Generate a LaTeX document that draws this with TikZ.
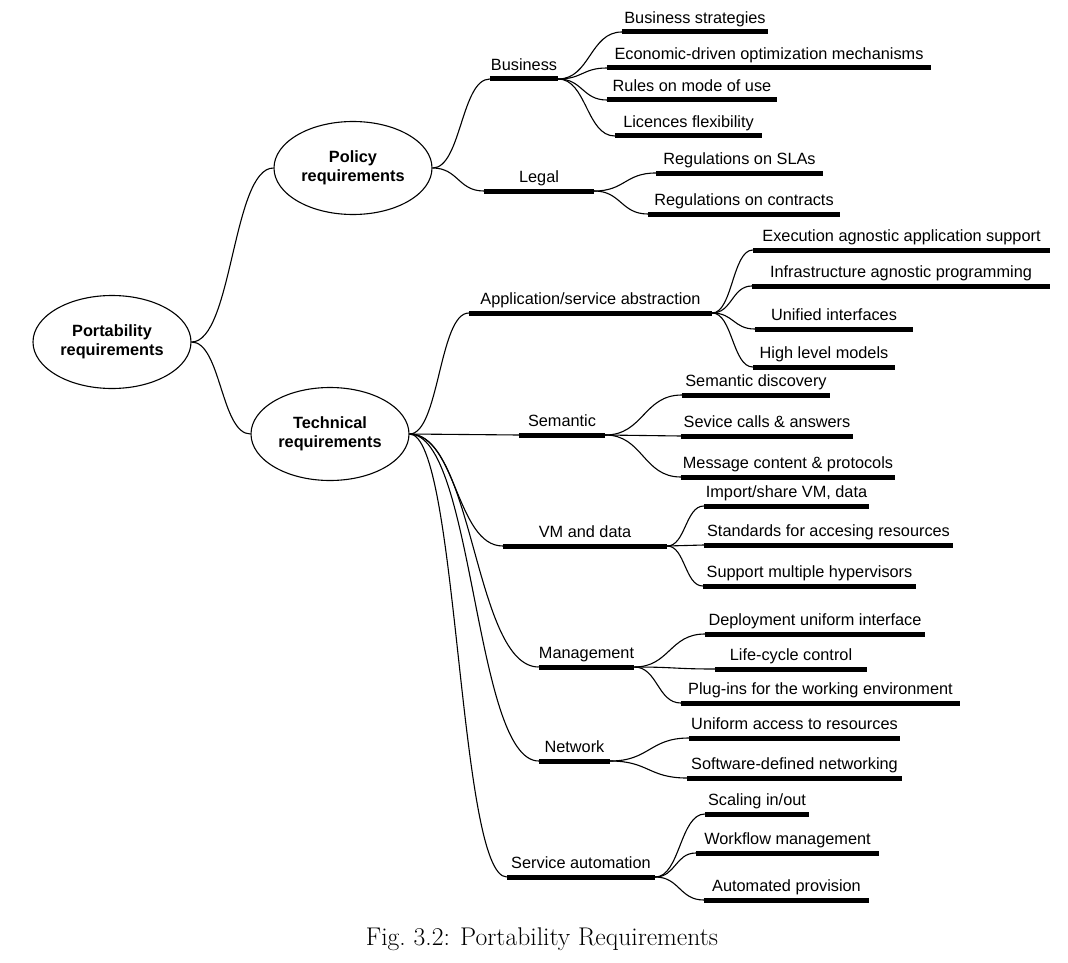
\documentclass[tikz,border=0pt]{standalone}
\usepackage{fontspec}
\newfontfamily\arialfont{Liberation Sans}
\usetikzlibrary{shapes.geometric,calc}
\tikzset{
  req/.style={ellipse, draw, line width=1.1pt, minimum width=158pt, minimum height=93pt, inner sep=0pt, align=center, font=\arialfont\bfseries\fontsize{16.3}{19.5}\selectfont},
  item/.style={anchor=south, inner xsep=0pt, inner ysep=8pt, text depth=0pt, font=\arialfont\fontsize{16.3}{19.5}\selectfont},
  bar/.style={line width=5pt},
  link/.style={line width=1.1pt}
}
\begin{document}
\begin{tikzpicture}[x=1pt,y=-1pt]
\useasboundingbox (0,0) rectangle (1068,963);
\node[req] (port) at (112,342) {Portability\\requirements};
\node[req] (pol) at (353,168) {Policy\\requirements};
\node[req] (tech) at (330,434) {Technical\\requirements};
% name/left end/right end/height of the bar/text
\foreach \n/\xa/\xb/\yy/\t in {
  bus/490/558/79/Business,
  leg/484/594/191/Legal,
  bstr/622/768/32/Business strategies,
  econ/607/931/68/Economic-driven optimization mechanisms,
  rules/607/777/100/Rules on mode of use,
  lic/615/762/136/Licences flexibility,
  sla/656/823/173/Regulations on SLAs,
  contr/648/840/214/Regulations on contracts,
  app/469/712/313/{Application/service abstraction},
  exe/753/1050/250/Execution agnostic application support,
  infra/752/1050/286/Infrastructure agnostic programming,
  unif/755/913/329/Unified interfaces,
  hlm/753/895/367/High level models,
  sem/519/605/435/Semantic,
  sdisc/682/830/395/Semantic discovery,
  scall/681/853/436/Sevice calls \& answers,
  msg/681/895/477/Message content \& protocols,
  vm/503/667/546/VM and data,
  imp/704/869/506/{Import/share VM, data},
  std/704/953/545/Standards for accesing resources,
  hyp/703/916/586/Support multiple hypervisors,
  mgmt/539/634/667/Management,
  depl/705/925/634/Deployment uniform interface,
  life/715/867/669/Life-cycle control,
  plug/681/960/703/Plug-ins for the working environment,
  net/539/610/761/Network,
  uacc/689/900/738/Uniform access to resources,
  sdn/687/902/778/Software-defined networking,
  auto/507/655/877/Service automation,
  scal/705/809/814/{Scaling in/out},
  wflow/696/879/853/Workflow management,
  prov/704/869/900/Automated provision}
{
  \node[item, minimum width={(\xb-\xa)*1pt}] (\n) at ({(\xa+\xb)/2},\yy) {\t};
  \draw[bar] (\n.south west) -- (\n.south east);
}
% curved links, flat at both ends
\foreach \a/\b in {port.east/pol.west, port.east/tech.west,
  pol.east/bus.south west, pol.east/leg.south west,
  bus.south east/bstr.south west, bus.south east/econ.south west, bus.south east/rules.south west, bus.south east/lic.south west,
  leg.south east/sla.south west, leg.south east/contr.south west,
  tech.east/app.south west, tech.east/sem.south west, tech.east/vm.south west, tech.east/mgmt.south west, tech.east/net.south west, tech.east/auto.south west,
  app.south east/exe.south west, app.south east/infra.south west, app.south east/unif.south west, app.south east/hlm.south west,
  sem.south east/sdisc.south west, sem.south east/scall.south west, sem.south east/msg.south west,
  vm.south east/imp.south west, vm.south east/std.south west, vm.south east/hyp.south west,
  mgmt.south east/depl.south west, mgmt.south east/life.south west, mgmt.south east/plug.south west,
  net.south east/uacc.south west, net.south east/sdn.south west,
  auto.south east/scal.south west, auto.south east/wflow.south west, auto.south east/prov.south west}
  \draw[link] let \p1=(\a), \p2=(\b) in (\p1) .. controls ({(\x1+\x2)/2},\y1) and ({(\x1+\x2)/2},\y2) .. (\p2);
\node[anchor=base, font=\fontsize{25.6}{30}\selectfont] (cap) at (542,945) {Fig.\ 3.2: Portability Requirements};
\end{tikzpicture}
\end{document}
